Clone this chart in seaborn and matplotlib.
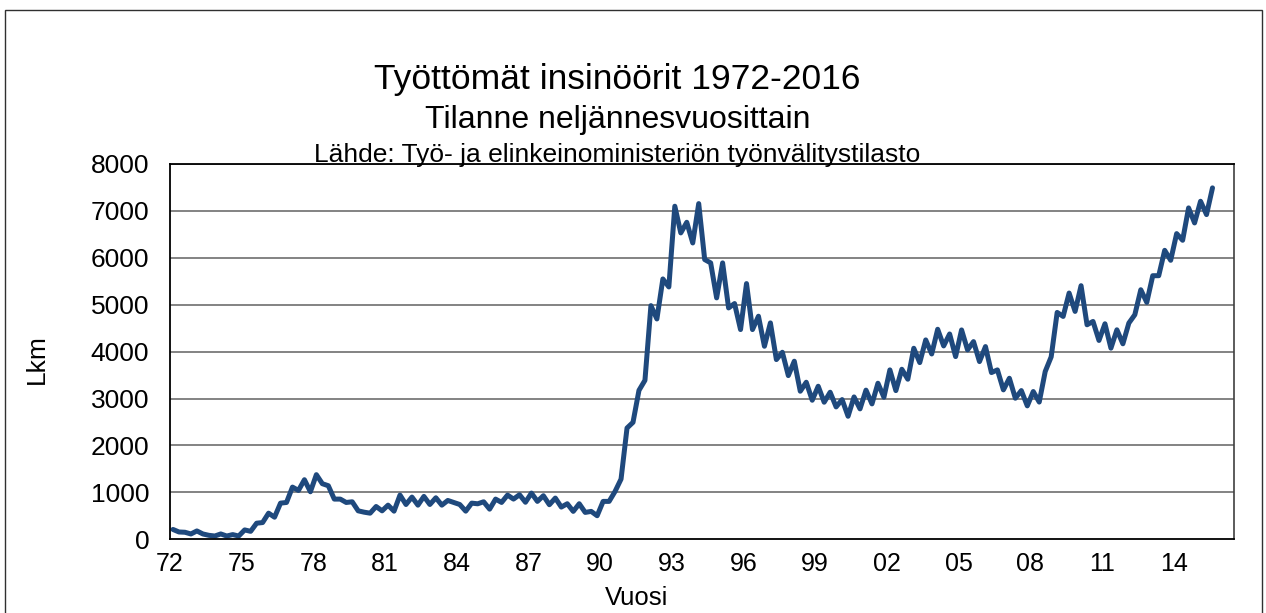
import numpy as np
import pandas as pd
import seaborn as sns
from matplotlib import pyplot as plt
from matplotlib.patches import Rectangle

# quarterly unemployed engineers, 1972Q1 ->
values = [210, 156, 150, 114, 178, 114, 85, 70, 114, 70, 100, 70, 200, 170, 343, 357,
          557, 471, 771, 785, 1113, 1041, 1270, 1013, 1378, 1185, 1142, 857, 857, 785,
          800, 607, 578, 557, 699, 607, 728, 600, 943, 742, 900, 728, 914, 742, 885, 728,
          828, 786, 742, 600, 771, 757, 800, 643, 857, 786, 943, 857,
          950, 790, 985, 808, 929, 737, 879, 687, 758, 595, 758, 573, 595, 502, 808, 808,
          1021, 1284, 2372, 2493, 3175, 3389, 4981, 4697, 5550, 5379, 7100, 6531, 6758,
          6317, 7156,
          5963, 5892, 5146, 5892, 4932, 5025, 4471, 5451, 4471, 4755, 4115, 4613, 3831,
          3987, 3490, 3796, 3156, 3348, 2964, 3263, 2922, 3135, 2822, 2978, 2623, 3035, 2780,
          3180, 2886, 3327, 3028, 3611, 3170, 3625, 3412, 4072, 3767, 4250, 3951, 4477,
          4122, 4377, 3895, 4463, 4037, 4214, 3788, 4108, 3554, 3611, 3185, 3433, 3007,
          3170, 2844,
          3150, 2925, 3577, 3890, 4836, 4751, 5249, 4858, 5406, 4573, 4644, 4239, 4594,
          4075, 4466, 4167, 4609, 4787, 5320, 5050, 5619, 5619, 6160, 5947, 6516, 6374,
          7064, 6744, 7206, 6922, 7491]
year_labels = ['72', '75', '78', '81', '84', '87', '90', '93', '96', '99',
               '02', '05', '08', '11', '14']
y_ticks = [0, 1000, 2000, 3000, 4000, 5000, 6000, 7000, 8000]

df = pd.DataFrame({'q': np.arange(len(values)), 'lkm': values})

sns.set_style('white')
plt.rcParams['font.family'] = ['Liberation Sans', 'DejaVu Sans']
plt.rcParams['text.color'] = 'black'
plt.rcParams['axes.labelcolor'] = 'black'
plt.rcParams['xtick.color'] = 'black'
plt.rcParams['ytick.color'] = 'black'

fig = plt.figure(figsize=(12.66, 6.13), dpi=100)
ax = fig.add_axes([170 / 1266, 1 - 539.3 / 613, 1064 / 1266, 375.3 / 613])

sns.lineplot(data=df, x='q', y='lkm', ax=ax, color='#1F497D', linewidth=3.6)

ax.set_xlim(-0.5, 177.6)
ax.set_ylim(0, 8000)
ax.set_xticks([-0.5 + 12 * i for i in range(len(year_labels))])
ax.set_xticklabels(year_labels)
ax.set_yticks(y_ticks)
ax.tick_params(axis='both', direction='out', length=6, width=1.2)
ax.tick_params(axis='x', labelsize=18, pad=3)
ax.tick_params(axis='y', labelsize=19, pad=9)
for y in y_ticks[1:]:
    ax.axhline(y, color='#7a7a7a', linewidth=1.3, zorder=0)
for s in ['left', 'bottom', 'top']:
    ax.spines[s].set_color('black')
    ax.spines[s].set_linewidth(1.3)
ax.spines['right'].set_color('#404040')
ax.spines['right'].set_linewidth(1.2)

ax.set_xlabel('Vuosi', fontsize=18.5)
ax.xaxis.set_label_coords((637 - 170) / 1064, -(598 - 539.3) / 375.3)
ax.xaxis.label.set_va('center')
ax.set_ylabel('Lkm', fontsize=19)
ax.yaxis.set_label_coords((37 - 170) / 1064, 0.48)
ax.yaxis.label.set_va('center')

fig.text(617 / 1266, 1 - 89 / 613, 'Työttömät insinöörit 1972-2016', ha='center',
         va='baseline', fontsize=25.5)
fig.text(618 / 1266, 1 - 128 / 613, 'Tilanne neljännesvuosittain', ha='center',
         va='baseline', fontsize=23)
fig.text(617 / 1266, 1 - 162 / 613, 'Lähde: Työ- ja elinkeinoministeriön työnvälitystilasto',
         ha='center', va='baseline', fontsize=19)

fig.patches.append(Rectangle((5 / 1266, -0.02), 1257 / 1266, 1.02 - 10 / 613,
                             transform=fig.transFigure, fill=False,
                             edgecolor='#303030', linewidth=1))

fig.savefig('out.png', dpi=100)
